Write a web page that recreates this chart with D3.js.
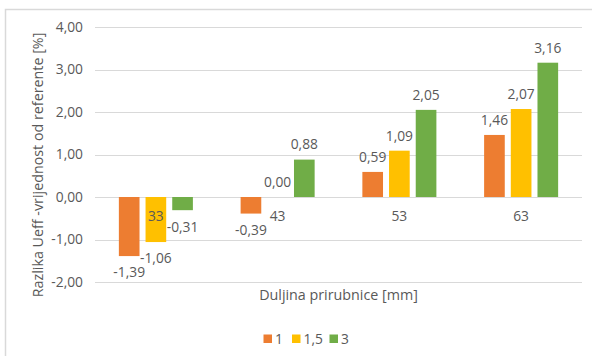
<!DOCTYPE html>
<html>
<head>
<meta charset="utf-8">
<script src="https://cdn.jsdelivr.net/npm/d3@7"></script>
<style>
  html, body { margin: 0; padding: 0; background: #fff; }
  svg { display: block; }
  text { font-family: "Open Sans", "Liberation Sans", sans-serif; fill: #595959; }
</style>
</head>
<body>
<svg id="chart" width="592" height="356"></svg>
<script>
// Flange lengths (mm) on the x axis
const categories = ["33", "43", "53", "63"];
// Series names (legend)
const seriesNames = ["1", "1,5", "3"];
// Difference of Ueff from reference [%], one array per series
const series1 = [-1.39, -0.39, 0.59, 1.46];
const series15 = [-1.06, 0.00, 1.09, 2.07];
const series3 = [-0.31, 0.88, 2.05, 3.16];
// Y axis ticks
const yTicks = [-2, -1, 0, 1, 2, 3, 4];

const seriesValues = [series1, series15, series3];
const colors = ["#ED7D31", "#FFC000", "#70AD47"];

const fmt = v => v.toFixed(2).replace(".", ",");
const labelSize = 13.8;
const titleSize = 14.3;

const svg = d3.select("#chart");

// chart frame
svg.append("rect")
  .attr("x", 5.5).attr("y", 9.5)
  .attr("width", 620).attr("height", 380)
  .attr("fill", "#fff")
  .attr("stroke", "#d9d9d9").attr("stroke-width", 1.5);

const plot = { left: 95, right: 582, top: 27, bottom: 282 };

const y = d3.scaleLinear().domain([-2, 4]).range([plot.bottom, plot.top]);
const x0 = d3.scaleBand().domain(categories)
  .range([plot.left, plot.right])
  .paddingInner(0.392).paddingOuter(0.196);
const x1 = d3.scaleBand().domain(seriesNames)
  .range([0, x0.bandwidth()])
  .paddingInner(0.226).paddingOuter(0);

// gridlines
svg.append("g").selectAll("line").data(yTicks).join("line")
  .attr("x1", plot.left).attr("x2", plot.right)
  .attr("y1", d => Math.round(y(d)) + 0.5).attr("y2", d => Math.round(y(d)) + 0.5)
  .attr("stroke", "#d9d9d9").attr("stroke-width", 1);

// y tick labels
svg.append("g").selectAll("text").data(yTicks).join("text")
  .attr("x", 83).attr("y", d => y(d))
  .attr("dy", "0.35em")
  .attr("text-anchor", "end")
  .attr("font-size", labelSize)
  .text(d => fmt(d));

// bars
const rows = [];
seriesNames.forEach((s, si) => {
  categories.forEach((c, ci) => {
    rows.push({ s, si, c, v: seriesValues[si][ci] });
  });
});

svg.append("g").selectAll("rect").data(rows).join("rect")
  .attr("x", d => x0(d.c) + x1(d.s))
  .attr("width", x1.bandwidth())
  .attr("y", d => y(Math.max(0, d.v)))
  .attr("height", d => Math.abs(y(d.v) - y(0)))
  .attr("fill", d => colors[d.si]);

// category labels (drawn next to the zero line)
svg.append("g").selectAll("text").data(categories).join("text")
  .attr("x", d => x0(d) + x0.bandwidth() / 2)
  .attr("y", y(0) + 19)
  .attr("dy", "0.35em")
  .attr("text-anchor", "middle")
  .attr("font-size", labelSize)
  .text(d => d);

// value labels
svg.append("g").selectAll("text").data(rows).join("text")
  .attr("x", d => x0(d.c) + x1(d.s) + x1.bandwidth() / 2)
  .attr("y", d => d.v >= 0 ? y(d.v) - 15 : y(d.v) + 16.5)
  .attr("dy", "0.35em")
  .attr("text-anchor", "middle")
  .attr("font-size", labelSize)
  .text(d => fmt(d.v));

// axis titles
svg.append("text")
  .attr("x", (plot.left + plot.right) / 2).attr("y", 295)
  .attr("dy", "0.35em")
  .attr("text-anchor", "middle")
  .attr("font-size", titleSize)
  .text("Duljina prirubnice [mm]");

svg.append("text")
  .attr("transform", "translate(38,165) rotate(-90)")
  .attr("dy", "0.35em")
  .attr("text-anchor", "middle")
  .attr("font-size", titleSize)
  .text("Razlika Ueff -vrijednost od referente [%]");

// legend
const legendX = [263.5, 292, 329.5];
const lg = svg.append("g").selectAll("g").data(seriesNames).join("g")
  .attr("transform", (d, i) => `translate(${legendX[i]},334.5)`);
lg.append("rect").attr("width", 8.5).attr("height", 8.5)
  .attr("fill", (d, i) => colors[i]);
lg.append("text").attr("x", 11.5).attr("y", 4.25).attr("dy", "0.35em")
  .attr("font-size", labelSize).text(d => d);
</script>
</body>
</html>
